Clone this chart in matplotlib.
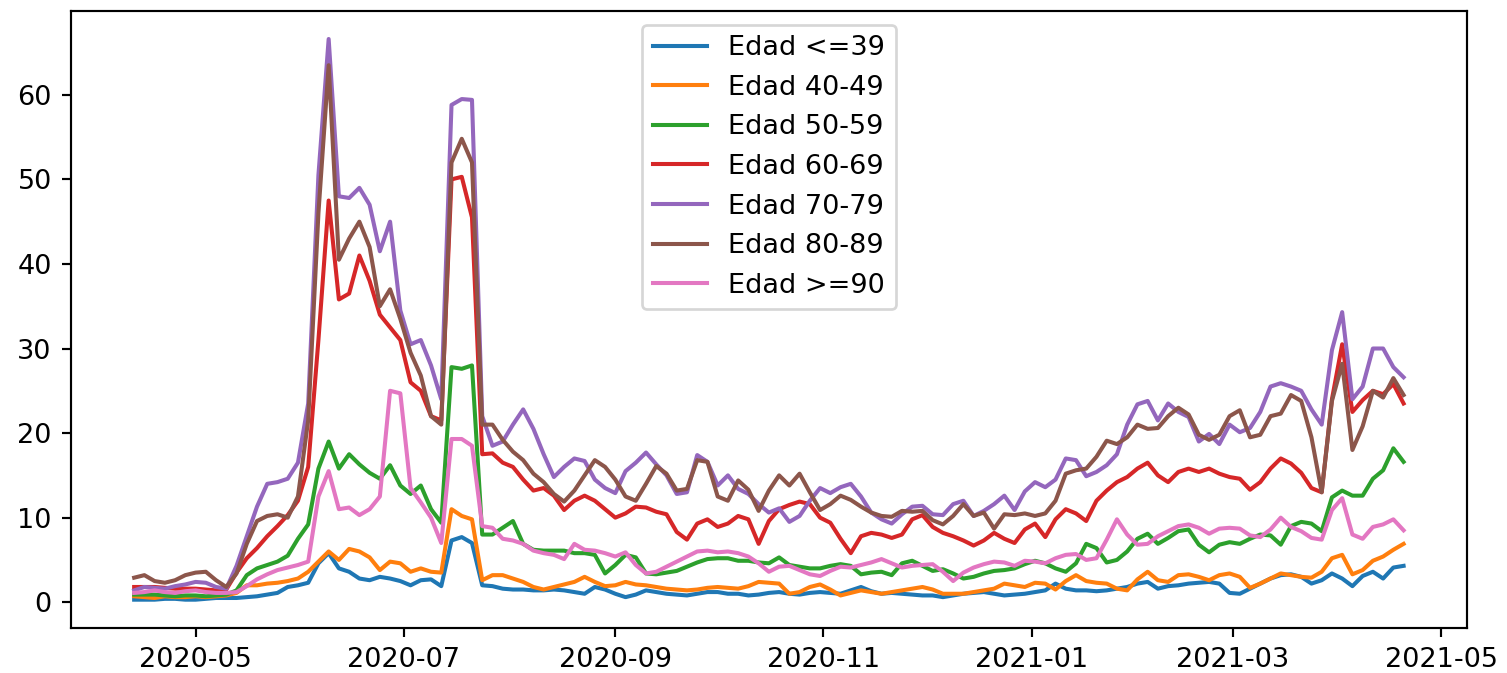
import pandas as pd
import matplotlib
matplotlib.use("Agg")
import matplotlib.pyplot as plt

# one reading every 3 days, 2020-04-13 .. 2021-04-20
dates = pd.date_range("2020-04-13", "2021-04-20", freq="3D")

edad_39 = [
    0.3, 0.3, 0.3, 0.4, 0.4, 0.3, 0.3, 0.4, 0.5, 0.5,
    0.5, 0.6, 0.7, 0.9, 1.1, 1.8, 2.0, 2.3, 4.6, 5.8,
    4.0, 3.6, 2.8, 2.6, 3.0, 2.8, 2.5, 2.0, 2.6, 2.7,
    1.9, 7.3, 7.7, 7.0, 2.0, 1.9, 1.6, 1.5, 1.5, 1.4,
    1.4, 1.5, 1.4, 1.2, 1.0, 1.8, 1.5, 1.0, 0.6, 0.9,
    1.4, 1.2, 1.0, 0.9, 0.8, 1.0, 1.2, 1.2, 1.0, 1.0,
    0.8, 0.9, 1.1, 1.2, 1.0, 0.9, 1.1, 1.2, 1.1, 1.0,
    1.4, 1.8, 1.3, 1.0, 1.1, 1.0, 0.9, 0.8, 0.8, 0.6,
    0.8, 1.0, 1.1, 1.2, 1.0, 0.8, 0.9, 1.0, 1.2, 1.4,
    2.2, 1.6, 1.4, 1.4, 1.3, 1.4, 1.6, 1.8, 2.2, 2.4,
    1.6, 1.9, 2.0, 2.2, 2.3, 2.4, 2.2, 1.1, 1.0, 1.6,
    2.2, 2.8, 3.2, 3.3, 3.0, 2.2, 2.6, 3.4, 2.8, 1.9,
    3.1, 3.6, 2.8, 4.1, 4.3,
]
edad_40_49 = [
    0.7, 0.6, 0.5, 0.7, 0.6, 0.6, 0.7, 0.6, 0.7, 0.8,
    1.1, 2.0, 2.0, 2.2, 2.3, 2.5, 2.8, 3.6, 4.8, 6.0,
    5.0, 6.3, 6.0, 5.3, 3.8, 4.8, 4.6, 3.6, 4.0, 3.6,
    3.5, 11.0, 10.2, 9.8, 2.6, 3.2, 3.2, 2.8, 2.4, 1.8,
    1.5, 1.8, 2.1, 2.4, 3.0, 2.4, 1.9, 2.0, 2.4, 2.1,
    2.0, 1.8, 1.6, 1.5, 1.4, 1.5, 1.7, 1.8, 1.7, 1.6,
    1.9, 2.4, 2.3, 2.2, 1.0, 1.2, 1.8, 2.1, 1.5, 0.8,
    1.1, 1.4, 1.2, 1.0, 1.2, 1.4, 1.6, 1.8, 1.5, 1.0,
    1.0, 1.0, 1.2, 1.4, 1.6, 2.2, 2.0, 1.8, 2.3, 2.2,
    1.5, 2.5, 3.2, 2.5, 2.3, 2.2, 1.6, 1.4, 2.7, 3.6,
    2.6, 2.4, 3.2, 3.3, 3.0, 2.6, 3.2, 3.4, 3.0, 1.7,
    2.2, 2.8, 3.4, 3.2, 3.0, 2.9, 3.6, 5.2, 5.6, 3.3,
    3.8, 4.9, 5.4, 6.2, 6.9,
]
edad_50_59 = [
    0.9, 0.9, 0.9, 0.8, 0.7, 0.8, 0.8, 0.7, 0.8, 0.9,
    1.4, 3.2, 4.0, 4.4, 4.8, 5.5, 7.5, 9.2, 15.8, 19.0,
    15.8, 17.5, 16.3, 15.3, 14.6, 16.2, 13.8, 12.8, 13.8, 11.0,
    9.4, 27.8, 27.6, 28.0, 8.0, 8.0, 8.8, 9.6, 6.9, 6.2,
    6.1, 6.1, 6.1, 5.8, 5.8, 5.6, 3.4, 4.4, 5.6, 5.3,
    3.4, 3.3, 3.5, 3.7, 4.2, 4.7, 5.1, 5.2, 5.2, 4.9,
    4.9, 4.7, 4.6, 5.3, 4.4, 4.2, 4.0, 4.0, 4.3, 4.5,
    4.3, 3.3, 3.5, 3.6, 3.2, 4.6, 4.9, 4.3, 3.7, 3.9,
    3.4, 2.8, 3.0, 3.4, 3.7, 3.8, 4.0, 4.5, 4.9, 4.6,
    4.0, 3.6, 4.6, 6.9, 6.4, 4.7, 5.0, 6.0, 7.5, 8.1,
    6.9, 7.6, 8.4, 8.6, 6.8, 5.9, 6.8, 7.1, 6.9, 7.5,
    8.0, 7.9, 6.8, 9.0, 9.5, 9.3, 8.4, 12.4, 13.2, 12.6,
    12.6, 14.6, 15.6, 18.2, 16.6,
]
edad_60_69 = [
    1.8, 1.8, 1.8, 1.7, 1.6, 1.6, 1.6, 1.5, 1.4, 1.5,
    3.5, 5.2, 6.4, 7.8, 9.0, 10.3, 12.0, 16.0, 31.0, 47.5,
    35.8, 36.5, 41.0, 38.0, 34.0, 32.5, 31.0, 26.0, 25.0, 22.0,
    21.5, 50.0, 50.3, 45.5, 17.5, 17.6, 16.5, 16.0, 14.5, 13.2,
    13.5, 12.6, 10.9, 12.0, 12.6, 12.0, 11.0, 10.0, 10.5, 11.3,
    11.2, 10.7, 10.4, 8.3, 7.4, 9.3, 9.8, 8.9, 9.3, 10.2,
    9.8, 6.9, 9.6, 11.0, 11.5, 11.9, 11.6, 10.0, 9.4, 7.5,
    5.8, 7.8, 8.2, 8.0, 7.6, 8.0, 9.8, 10.3, 8.9, 8.2,
    7.8, 7.3, 6.7, 7.3, 8.2, 7.5, 7.0, 8.6, 9.3, 7.7,
    9.8, 11.0, 10.5, 9.6, 12.0, 13.2, 14.2, 14.8, 15.8, 16.5,
    15.0, 14.2, 15.4, 15.8, 15.4, 15.8, 15.2, 14.8, 14.6, 13.3,
    14.2, 15.8, 17.0, 16.4, 15.3, 13.5, 13.0, 24.0, 30.5, 22.5,
    23.9, 25.0, 24.6, 25.8, 23.5,
]
edad_70_79 = [
    1.4, 1.8, 1.7, 1.6, 1.9, 2.1, 2.4, 2.3, 1.8, 1.6,
    4.3, 7.8, 11.3, 14.0, 14.2, 14.6, 16.5, 23.5, 50.5, 66.6,
    48.0, 47.8, 49.0, 47.0, 41.5, 45.0, 34.5, 30.5, 31.0, 28.0,
    24.0, 58.8, 59.5, 59.4, 22.0, 18.5, 19.0, 21.0, 22.8, 20.5,
    17.5, 14.8, 16.0, 17.0, 16.7, 14.5, 13.5, 12.9, 15.5, 16.5,
    17.7, 16.3, 15.0, 12.8, 13.0, 17.4, 16.6, 13.8, 15.0, 13.4,
    12.8, 11.6, 10.6, 11.1, 9.5, 10.2, 12.0, 13.5, 12.9, 13.6,
    14.0, 12.5, 10.6, 9.8, 9.3, 10.4, 11.3, 11.4, 10.4, 10.3,
    11.6, 12.0, 10.2, 10.8, 11.6, 12.6, 10.9, 13.1, 14.2, 13.6,
    14.5, 17.0, 16.8, 14.9, 15.4, 16.2, 17.5, 21.0, 23.4, 23.8,
    21.5, 23.5, 22.5, 21.9, 19.0, 19.9, 18.7, 21.0, 20.1, 20.6,
    22.5, 25.5, 25.9, 25.5, 25.0, 22.8, 21.0, 29.8, 34.3, 24.0,
    25.5, 30.0, 30.0, 27.8, 26.6,
]
edad_80_89 = [
    2.9, 3.2, 2.5, 2.3, 2.6, 3.2, 3.5, 3.6, 2.6, 1.8,
    3.4, 6.9, 9.6, 10.2, 10.4, 10.0, 12.5, 21.5, 46.0, 63.5,
    40.5, 43.0, 45.0, 42.0, 35.0, 37.0, 33.5, 29.5, 26.8, 22.0,
    21.0, 52.0, 54.8, 52.0, 21.0, 21.0, 19.2, 17.8, 16.8, 15.2,
    14.2, 12.8, 11.9, 13.2, 15.0, 16.8, 16.0, 14.5, 12.5, 12.0,
    14.0, 16.1, 15.2, 13.2, 13.4, 16.8, 16.6, 12.5, 12.0, 14.4,
    13.3, 10.8, 13.2, 15.0, 13.8, 15.2, 13.0, 10.9, 11.6, 12.6,
    12.1, 11.3, 10.6, 10.2, 10.1, 10.8, 10.7, 10.8, 9.7, 9.2,
    10.2, 11.6, 10.2, 10.6, 8.7, 10.4, 10.3, 10.5, 10.2, 10.5,
    12.0, 15.2, 15.6, 15.8, 17.2, 19.1, 18.7, 19.5, 21.0, 20.5,
    20.6, 22.0, 23.0, 22.2, 19.8, 19.2, 19.8, 22.0, 22.7, 19.5,
    19.8, 22.0, 22.3, 24.5, 23.8, 19.5, 13.0, 23.8, 28.2, 18.0,
    20.8, 25.0, 24.2, 26.5, 24.5,
]
edad_90 = [
    1.1, 1.2, 1.4, 1.2, 1.1, 1.3, 1.4, 1.2, 1.1, 1.1,
    1.2, 1.9, 2.7, 3.3, 3.8, 4.1, 4.4, 4.8, 12.5, 15.5,
    11.0, 11.2, 10.3, 11.0, 12.5, 25.0, 24.7, 13.5, 11.8, 10.0,
    7.0, 19.3, 19.3, 18.5, 9.0, 8.8, 7.5, 7.3, 6.9, 6.1,
    5.8, 5.6, 5.1, 6.9, 6.2, 6.1, 5.8, 5.4, 5.9, 4.4,
    3.4, 3.6, 4.2, 4.8, 5.4, 6.0, 6.1, 5.9, 6.0, 5.8,
    5.4, 4.6, 3.6, 4.2, 4.3, 3.8, 3.3, 3.1, 3.7, 4.2,
    4.1, 4.4, 4.7, 5.1, 4.6, 4.1, 4.3, 4.4, 4.5, 3.6,
    2.5, 3.5, 4.1, 4.5, 4.8, 4.7, 4.3, 4.9, 4.8, 4.6,
    5.2, 5.6, 5.7, 5.0, 5.2, 7.4, 9.8, 8.0, 6.8, 6.9,
    7.8, 8.4, 9.0, 9.2, 8.8, 8.1, 8.7, 8.8, 8.7, 7.9,
    7.7, 8.6, 10.0, 8.9, 8.4, 7.6, 7.4, 10.9, 12.3, 8.0,
    7.5, 8.9, 9.2, 9.8, 8.5,
]

labels = ["Edad <=39", "Edad 40-49", "Edad 50-59", "Edad 60-69",
          "Edad 70-79", "Edad 80-89", "Edad >=90"]
values = [edad_39, edad_40_49, edad_50_59, edad_60_69,
          edad_70_79, edad_80_89, edad_90]

dpi = 195
fig = plt.figure(figsize=(1507 / dpi, 673 / dpi), dpi=dpi)
ax = fig.add_axes([0.0469, 0.0673, 0.9266, 0.9164])

for label, vals in zip(labels, values):
    ax.plot(dates, vals, label=label)

ax.legend(loc="upper center")
fig.savefig("out.png", dpi=dpi)
plt.close(fig)
